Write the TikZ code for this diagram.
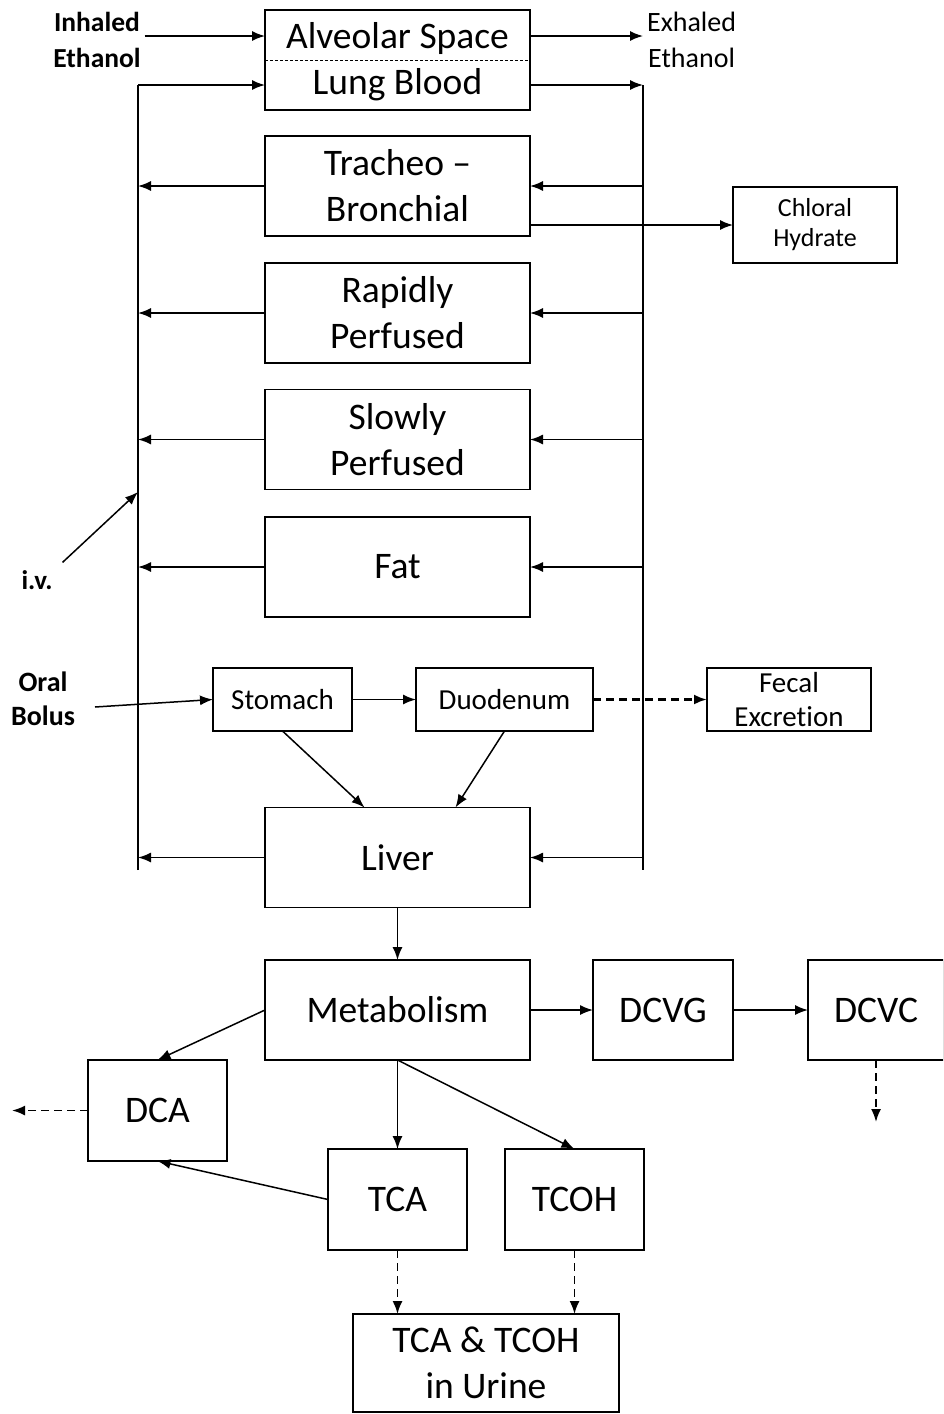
\documentclass[tikz,border=0pt]{standalone}
\usepackage{fontspec}
\setmainfont{Carlito}[Ligatures=NoCommon]
\usetikzlibrary{arrows.meta}

\begin{document}
\begin{tikzpicture}[x=1pt,y=-1pt,line width=1.5pt,
  box/.style={draw,minimum width=265pt,minimum height=100pt,inner sep=0pt,outer sep=0pt,align=center,font=\fontsize{37.5}{46}\selectfont},
  sbox/.style={draw,inner sep=0pt,outer sep=0pt,align=center,font=\fontsize{29}{35}\selectfont},
  arr/.style={-{Latex[length=13pt,width=10pt]}},
  darr/.style={arr,line width=1.8pt,dash pattern=on 8pt off 5pt},
  lbl/.style={align=center,font=\fontsize{28}{36}\selectfont}]
\clip (0,0) rectangle (943,1414);
\node[box,draw=none,minimum height=44pt] (alv) at (397.5,38) {Alveolar Space};
\node[box,draw=none,minimum height=50pt] (blood) at (397.5,85) {Lung Blood};
\draw ([yshift=6pt]alv.north west) rectangle (blood.south east);
\draw[line width=0.9pt,dash pattern=on 3pt off 2pt] (alv.south west) -- (alv.south east);
\node[lbl,font=\fontsize{27.5}{36}\selectfont\bfseries] (inh) at (97,40) {Inhaled\\Ethanol};
\node[lbl,anchor=west] (exh) at (643,40) {Exhaled\\Ethanol};
\node[box] (trach) at (397.5,186) {Tracheo --\\Bronchial};
\node[box] (rapid) at (397.5,313) {Rapidly\\Perfused};
\node[box] (slow) at (397.5,439.5) {Slowly\\Perfused};
\node[box] (fat) at (397.5,567) {Fat};
\node[box] (liver) at (397.5,857.5) {Liver};
\node[box] (metab) at (397.5,1010) {Metabolism};
\node[sbox,minimum width=164pt,minimum height=76pt,font=\fontsize{26}{30}\selectfont] (chloral) at (815,225) {Chloral\\Hydrate};
\node[sbox,minimum width=139pt,minimum height=63pt] (stomach) at (282.5,699.5) {Stomach};
\node[sbox,minimum width=177pt,minimum height=63pt] (duod) at (504.5,699.5) {Duodenum};
\node[sbox,minimum width=164pt,minimum height=63pt,font=\fontsize{29}{34}\selectfont] (fecal) at (789,699.5) {Fecal\\Excretion};
\node[box,minimum width=140pt] (dcvg) at (663,1010) {DCVG};
\node[box,minimum width=136pt] (dcvc) at (876,1010) {DCVC};
\node[box,minimum width=139pt,minimum height=101pt] (dca) at (157.5,1110.5) {DCA};
\node[box,minimum width=139pt,minimum height=101pt] (tca) at (397.5,1199.5) {TCA};
\node[box,minimum width=139pt,minimum height=101pt] (tcoh) at (574.5,1199.5) {TCOH};
\node[box,minimum width=266pt,minimum height=98pt] (urine) at (486,1363) {TCA \& TCOH\\in Urine};
\node[lbl,font=\fontsize{27}{36}\selectfont\bfseries] (iv) at (37,580) {i.v.};
\node[lbl,font=\fontsize{28}{34}\selectfont\bfseries] (oral) at (43,699) {Oral\\Bolus};
\coordinate (ltop) at (138,85);
\coordinate (lbot) at (138,870);
\coordinate (rtop) at (643,85);
\coordinate (rbot) at (643,870);
\coordinate (ivin) at (138,492);
\coordinate (dcaout) at (12,1110.5);
\coordinate (dcvcout) at (876,1122);
\draw[arr] (inh.east |- 0,36) -- (alv.west |- 0,36);
\draw[arr] (alv.east |- 0,36) -- (exh.west |- 0,36);
\draw (lbot) -- (ltop);
\draw[arr] (ltop) -- (blood.west);
\draw[arr] (blood.east) -- (rtop);
\draw (rtop) -- (rbot);
\foreach \n in {trach,rapid,slow,fat,liver}{
  \draw[arr] (\n.west) -- (\n.west -| lbot);
  \draw[arr] (\n.east -| rbot) -- (\n.east);
}
\draw[arr] (trach.east |- chloral.west) -- (chloral.west);
\draw[arr] ([xshift=6pt,yshift=4pt]iv.north east) -- (ivin);
\draw[arr] ([xshift=16pt,yshift=-8pt]oral.east) -- (stomach.west);
\draw[arr] (stomach) -- (duod);
\draw[darr,line width=2.4pt] (duod) -- (fecal);
\draw[arr] (stomach.south) -- ([xshift=-33pt]liver.north);
\draw[arr] (duod.south) -- ([xshift=58pt]liver.north);
\draw[arr] (liver) -- (metab);
\draw[arr] (metab) -- (dcvg);
\draw[arr] (dcvg) -- (dcvc);
\draw[darr] (dcvc) -- (dcvcout);
\draw[arr] (metab.west) -- (dca.north);
\draw[darr] (dca) -- (dcaout);
\draw[arr] (metab.south) -- (tca.north);
\draw[arr] (metab.south) -- (tcoh.north);
\draw[arr] (tca.west) -- (dca.south);
\draw[darr] (tca.south) -- (tca.south |- urine.north);
\draw[darr] (tcoh.south) -- (tcoh.south |- urine.north);
\end{tikzpicture}
\end{document}
